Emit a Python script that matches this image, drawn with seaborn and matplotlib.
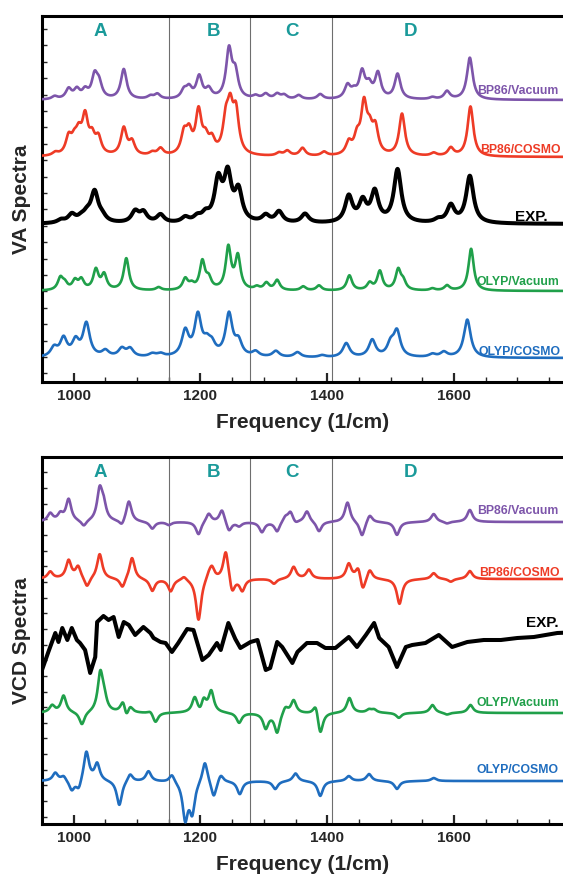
import numpy as np
import pandas as pd
import matplotlib
matplotlib.use("Agg")
import matplotlib.pyplot as plt
import seaborn as sns

# ---- data ----------------------------------------------------------------
# peaks are (frequency in 1/cm, height above the trace baseline)
# VA panel
va_bp86_vac = [(970, 3), (992, 10), (1005, 9), (1018, 8), (1033, 22), (1040, 14), (1079, 30),
               (1121, 3), (1132, 5), (1174, 8), (1182, 10), (1198, 22), (1213, 9), (1245, 48),
               (1255, 24), (1287, 3), (1303, 5), (1321, 5), (1332, 4), (1355, 4), (1389, 5),
               (1432, 13), (1442, 6), (1455, 26), (1466, 12), (1480, 25), (1511, 25),
               (1566, 2), (1589, 8), (1625, 42)]
va_bp86_cosmo = [(971, 3), (992, 17), (1001, 12), (1008, 18), (1018, 36), (1029, 16), (1039, 16),
                 (1079, 27), (1092, 13), (1124, 3), (1137, 7), (1174, 20), (1182, 20), (1197, 42),
                 (1208, 14), (1218, 13), (1240, 30), (1247, 40), (1256, 40), (1324, 3), (1337, 5),
                 (1361, 8), (1395, 4), (1434, 12), (1447, 16), (1458, 48), (1467, 20), (1476, 25),
                 (1518, 42), (1568, 3), (1595, 8), (1626, 50)]
va_exp = [(980, 3), (997, 8), (1012, 4), (1021, 7), (1033, 30), (1045, 5), (1097, 11), (1110, 10),
          (1137, 8), (1176, 5), (1195, 5), (1208, 7), (1228, 40), (1243, 45), (1260, 30),
          (1303, 7), (1324, 11), (1365, 9), (1434, 26), (1456, 20), (1475, 30), (1511, 53),
          (1575, 3), (1595, 17), (1625, 47)]
va_olyp_vac = [(979, 12), (986, 6), (1002, 9), (1012, 10), (1035, 20), (1048, 15), (1083, 32),
               (1134, 3), (1176, 11), (1186, 5), (1203, 28), (1213, 10), (1244, 42), (1259, 33),
               (1289, 3), (1304, 7), (1321, 10), (1362, 4), (1387, 5), (1435, 15), (1467, 7),
               (1483, 19), (1512, 20), (1520, 8), (1566, 2), (1589, 5), (1627, 42)]
va_olyp_cosmo = [(969, 9), (984, 18), (1003, 15), (1020, 33), (1050, 6), (1076, 8), (1089, 8),
                 (1124, 3), (1137, 3), (1176, 25), (1196, 40), (1210, 11), (1218, 10), (1245, 42),
                 (1260, 14), (1287, 5), (1319, 6), (1353, 5), (1392, 2), (1430, 14), (1471, 17),
                 (1500, 12), (1510, 25), (1566, 3), (1584, 5), (1621, 38)]

# VCD panel (signed heights)
vcd_bp86_vac = [(963, 8), (979, 7), (992, 22), (1016, -6), (1041, 30), (1047, 15), (1076, -6),
                (1087, 21), (1124, -7), (1150, -3), (1197, -13), (1213, 9), (1234, 13), (1245, -10),
                (1261, -4), (1297, -10), (1321, -10), (1334, 5), (1342, 10), (1350, -3), (1368, 11),
                (1387, -10), (1432, 20), (1455, -15), (1467, 8), (1510, -13), (1568, 8), (1589, -2),
                (1625, 12)]
vcd_bp86_cosmo = [(963, 7), (992, 18), (1007, 12), (1021, -10), (1041, 25), (1077, -10), (1092, 22),
                  (1124, -12), (1153, -12), (1174, 4), (1197, -42), (1213, 5), (1218, 12), (1240, 30),
                  (1250, -16), (1266, -12), (1316, -5), (1347, 12), (1371, 9), (1434, 15), (1449, 13),
                  (1456, -15), (1467, 10), (1514, -25), (1568, 6), (1595, -3), (1625, 8)]
vcd_olyp_vac = [(966, 7), (984, 17), (1013, -13), (1042, 38), (1048, 12), (1078, 13), (1083, -10),
                (1089, 7), (1121, 3), (1129, -10), (1191, 15), (1200, -5), (1205, 13), (1217, 21),
                (1261, -10), (1303, -15), (1321, -20), (1334, 7), (1347, 13), (1382, 12), (1389, -23),
                (1435, 15), (1466, 3), (1474, 3), (1513, -5), (1566, 8), (1589, -2), (1626, 8)]
vcd_olyp_cosmo = [(971, 8), (984, 5), (997, -10), (1008, -10), (1020, 30), (1037, 17), (1072, -25),
                  (1089, 8), (1118, 10), (1155, 8), (1176, -37), (1187, -30), (1207, 22), (1221, -17),
                  (1232, 8), (1262, -13), (1318, -8), (1350, 8), (1389, -15), (1434, 5), (1466, 7),
                  (1510, -8), (1568, 3)]
# experimental VCD traced point by point
vcd_exp_freq = [950, 960, 971, 976, 982, 990, 997, 1005, 1010, 1018, 1026, 1034, 1037, 1047, 1055,
                1063, 1071, 1079, 1087, 1097, 1110, 1121, 1126, 1137, 1145, 1155, 1165, 1179, 1189,
                1203, 1213, 1226, 1232, 1244, 1255, 1263, 1279, 1290, 1303, 1310, 1321, 1329, 1345,
                1353, 1368, 1384, 1397, 1413, 1434, 1447, 1461, 1474, 1482, 1497, 1510, 1524, 1534,
                1555, 1576, 1597, 1621, 1647, 1674, 1700, 1726, 1763, 1800]
vcd_exp_signal = [154, 172, 191, 182, 196, 184, 196, 184, 181, 174, 151, 167, 202, 208, 204,
                  207, 187, 202, 199, 189, 197, 191, 186, 182, 181, 172, 181, 195, 194,
                  164, 169, 181, 174, 201, 185, 176, 182, 184, 154, 156, 182, 177, 161,
                  172, 181, 181, 176, 176, 187, 177, 189, 201, 186, 177, 157, 177, 179,
                  181, 189, 177, 182, 184, 184, 186, 187, 191, 192]

trace_names = ["BP86/Vacuum", "BP86/COSMO", "EXP.", "OLYP/Vacuum", "OLYP/COSMO"]
trace_colors = ["#7d55aa", "#ee3b26", "black", "#20a04a", "#1f6dbf"]
va_baselines = [282, 225, 158, 91, 24]
vcd_baselines = [302, 245, None, 111, 43]
region_names = ["A", "B", "C", "D"]
region_centers = [1042, 1220, 1345, 1531]
region_edges = [1150, 1278, 1408]


def broaden(peaks, gamma, grid):
    y = np.zeros_like(grid)
    for pos, amp in peaks:
        y += amp * gamma ** 2 / ((grid - pos) ** 2 + gamma ** 2)
    return y


grid = np.arange(950, 1800, 0.5)
rows = []
va_sets = [(va_bp86_vac, 5.5), (va_bp86_cosmo, 5.5), (va_exp, 7.0), (va_olyp_vac, 5.0), (va_olyp_cosmo, 6.5)]
for name, (peaks, g), base in zip(trace_names, va_sets, va_baselines):
    rows.append(pd.DataFrame({"freq": grid, "signal": base + broaden(peaks, g, grid),
                              "trace": name, "panel": "VA"}))
vcd_sets = [vcd_bp86_vac, vcd_bp86_cosmo, None, vcd_olyp_vac, vcd_olyp_cosmo]
for name, peaks, base in zip(trace_names, vcd_sets, vcd_baselines):
    if peaks is None:
        rows.append(pd.DataFrame({"freq": vcd_exp_freq, "signal": vcd_exp_signal,
                                  "trace": name, "panel": "VCD"}))
    else:
        rows.append(pd.DataFrame({"freq": grid, "signal": base + broaden(peaks, 5.0, grid),
                                  "trace": name, "panel": "VCD"}))
df = pd.concat(rows, ignore_index=True)

sns.set_style("ticks")
plt.rcParams["font.family"] = ["Liberation Sans", "DejaVu Sans"]
plt.rcParams["font.weight"] = "bold"
plt.rcParams["axes.labelweight"] = "bold"

fig = plt.figure(figsize=(5.63, 8.74), dpi=100)
W, H = 563, 874
ax_va = fig.add_axes([42 / W, (H - 382) / H, 521 / W, 366 / H])
ax_vcd = fig.add_axes([42 / W, (H - 824) / H, 521 / W, 367 / H])

label_pos = {
    "VA": [(1637, 291), (1642, 232), (1697, 165), (1636, 100), (1638, 30)],
    "VCD": [(1637, 313), (1639, 251), (1713, 201), (1636, 121), (1636, 54)],
}

for ax, panel, ylab, ytop, tick0, tickstep in [(ax_va, "VA", "VA Spectra", 366, 8.7, 16.4),
                                               (ax_vcd, "VCD", "VCD Spectra", 367, 7.3, 15.65)]:
    for x in region_edges:
        ax.axvline(x, color="#6e6e6e", lw=0.8, zorder=1)
    sub = df[df["panel"] == panel]
    for name, col in zip(trace_names, trace_colors):
        lw = 2.9 if name == "EXP." else 1.9
        sns.lineplot(data=sub[sub["trace"] == name], x="freq", y="signal", color=col,
                     lw=lw, ax=ax, zorder=3, estimator=None, sort=True)
    for (tx, ty), name, col in zip(label_pos[panel], trace_names, trace_colors):
        size = 11 if name == "EXP." else 8.8
        ax.text(tx, ty, name, color=col, fontsize=size, fontweight="bold",
                ha="left", va="center", zorder=4)
    for letter, cx in zip(region_names, region_centers):
        ax.text(cx, ytop - 15, letter, color="#1a9a9a", fontsize=13.5, fontweight="bold",
                ha="center", va="center")

    ax.set_xlim(950, 1772)
    ax.set_ylim(0, ytop)
    ax.set_xticks([1000, 1200, 1400, 1600])
    ax.set_xticks(np.arange(950, 1771, 50), minor=True)
    ax.set_yticks([])
    ax.set_yticks(np.arange(tick0, ytop, tickstep), minor=True)
    ax.tick_params(axis="x", which="major", direction="in", length=6.5, width=1.6,
                   labelsize=11, pad=5)
    ax.tick_params(axis="x", which="minor", direction="in", length=3.5, width=1.0)
    ax.tick_params(axis="y", which="minor", direction="in", length=3.5, width=1.0)
    for lab in ax.get_xticklabels():
        lab.set_fontweight("bold")
    for side in ["left", "bottom", "top"]:
        ax.spines[side].set_linewidth(2.2)
        ax.spines[side].set_color("black")
    ax.spines["right"].set_visible(False)
    ax.set_xlabel("Frequency (1/cm)", fontsize=15, fontweight="bold", labelpad=7)
    ax.set_ylabel(ylab, fontsize=15, fontweight="bold")
    ax.yaxis.set_label_coords(-0.022, 0.5)

fig.savefig("out.png", dpi=100)
plt.close(fig)
